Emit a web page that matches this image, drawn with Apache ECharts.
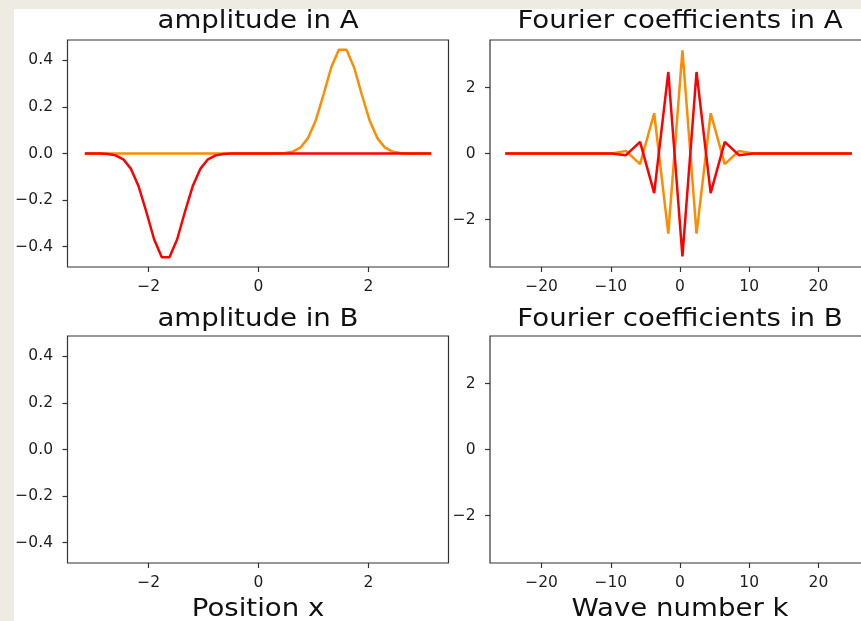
<!DOCTYPE html>
<html><head><meta charset="utf-8">
<script src="https://cdn.jsdelivr.net/npm/echarts@6/dist/echarts.min.js"></script>
<style>
html,body{margin:0;padding:0;background:#eeebe2;width:861px;height:621px;overflow:hidden}
#paper{position:absolute;left:14px;top:9px;width:847px;height:612px;background:#fff}
#chart{position:absolute;left:0;top:0;width:861px;height:621px}
</style></head><body><div id="paper"></div><div id="chart"></div>
<script>
// positions x
const xPos = [-3.16,-3.02,-2.88,-2.74,-2.60,-2.46,-2.32,-2.18,-2.04,-1.90,-1.76,-1.62,-1.48,-1.34,-1.20,-1.06,-0.92,-0.78,-0.64,-0.50,-0.36,-0.22,-0.08,0.06,0.20,0.34,0.48,0.62,0.76,0.90,1.04,1.18,1.32,1.46,1.60,1.74,1.88,2.02,2.16,2.30,2.44,2.58,2.72,2.86,3.00,3.14];
// amplitude in A (orange)
const ampOrange = [0,0,0,0,0,0,0,0,0,0,0,0,0,0,0,0,0,0,0,0,0,0,0,0,0,0,0.002,0.008,0.025,0.066,0.142,0.251,0.368,0.445,0.445,0.368,0.251,0.142,0.066,0.025,0.008,0.002,0,0,0,0];
// amplitude in A (red)
const ampRed = [0,0,0,-0.002,-0.008,-0.025,-0.066,-0.142,-0.251,-0.368,-0.445,-0.445,-0.368,-0.251,-0.142,-0.066,-0.025,-0.008,-0.002,0,0,0,0,0,0,0,0,0,0,0,0,0,0,0,0,0,0,0,0,0,0,0,0,0,0,0];
// wave numbers k
const kVals = [-25.25,-24.13,-22.09,-20.05,-18.01,-15.97,-13.93,-11.89,-9.85,-7.81,-5.77,-3.73,-1.69,0.35,2.39,4.43,6.47,8.51,10.55,12.59,14.63,16.67,18.71,20.75,22.79,24.83];
// Fourier coefficients in A
const fourOrange = [0,0,0,0,0,0,0,0,0,0.08,-0.32,1.22,-2.43,3.13,-2.43,1.22,-0.32,0.08,0,0,0,0,0,0,0,0];
const fourRed = [0,0,0,0,0,0,0,0,0,-0.05,0.35,-1.20,2.47,-3.12,2.47,-1.20,0.35,-0.05,0,0,0,0,0,0,0,0];
// tick labels
const ampYTicks = [-0.4,-0.2,0,0.2,0.4];
const ampXTicks = [-2,0,2];
const fourYTicks = [-2,0,2];
const fourXTicks = [-20,-10,0,10,20];
const panelTitles = ['amplitude in A','Fourier coefficients in A','amplitude in B','Fourier coefficients in B'];
const axisTitles = ['Position x','Wave number k'];

const FONT = '"DejaVu Sans", sans-serif';
const TXT = '#1e1e1e';
const LINE = '#333';
const minus = s => String(s).replace('-', '\u2212');

const grids = [
  {left:67.5, top:40, width:381, height:227},
  {left:490, top:40, width:380, height:227},
  {left:67.5, top:336, width:381, height:227},
  {left:490, top:336, width:380, height:227}
].map(g => Object.assign({show:true, borderColor:LINE, borderWidth:1.2, backgroundColor:'transparent', containLabel:false, outerBoundsMode:'none'}, g));

function xAx(i, min, max, ticks){
  return {type:'value', gridIndex:i, min, max, axisLine:{show:false, onZero:false},
    splitLine:{show:false},
    axisTick:{show:true, customValues:ticks, length:5, lineStyle:{color:LINE, width:1.2}},
    axisLabel:{customValues:ticks, margin:12, fontSize:15.5, fontFamily:FONT, color:TXT, formatter:v=>minus(v)}};
}
function yAx(i, min, max, ticks, fmt){
  return {type:'value', gridIndex:i, min, max, axisLine:{show:false, onZero:false},
    splitLine:{show:false},
    axisTick:{show:true, customValues:ticks, length:5, lineStyle:{color:LINE, width:1.2}},
    axisLabel:{customValues:ticks, margin:14.5, fontSize:15.5, fontFamily:FONT, color:TXT, formatter:fmt}};
}
const ampFmt = v => minus(v.toFixed(1));
const fourFmt = v => minus(Math.round(v));

const titlePos = [[258,22],[680,22],[258,320],[680,320]];
const graphic = panelTitles.map((t,i)=>({type:'text', x:titlePos[i][0], y:titlePos[i][1], scaleX:1.15,
  style:{text:t, font:'24px '+FONT, fill:'#111', textAlign:'center', textVerticalAlign:'middle'}}));
graphic.push({type:'text', x:258, y:610, scaleX:1.15, style:{text:axisTitles[0], font:'24px '+FONT, fill:'#111', textAlign:'center', textVerticalAlign:'middle'}});
graphic.push({type:'text', x:680, y:610, scaleX:1.15, style:{text:axisTitles[1], font:'24px '+FONT, fill:'#111', textAlign:'center', textVerticalAlign:'middle'}});

const chart = echarts.init(document.getElementById('chart'), null, {renderer:'canvas'});
chart.setOption({
  backgroundColor:'transparent',
  animation:false,
  grid:grids,
  xAxis:[xAx(0,-3.475,3.455,ampXTicks), xAx(1,-27.45,27.45,fourXTicks), xAx(2,-3.475,3.455,ampXTicks), xAx(3,-27.45,27.45,fourXTicks)],
  yAxis:[yAx(0,-0.487,0.487,ampYTicks,ampFmt), yAx(1,-3.44,3.44,fourYTicks,fourFmt), yAx(2,-0.487,0.487,ampYTicks,ampFmt), yAx(3,-3.44,3.44,fourYTicks,fourFmt)],
  graphic,
  series:[
    {type:'line', xAxisIndex:0, yAxisIndex:0, data:xPos.map((x,i)=>[x,ampOrange[i]]), showSymbol:false, lineStyle:{color:'#ff8c00', width:2.5}, z:2},
    {type:'line', xAxisIndex:0, yAxisIndex:0, data:xPos.map((x,i)=>[x,ampRed[i]]), showSymbol:false, lineStyle:{color:'#ff0000', width:2.5}, z:3},
    {type:'line', xAxisIndex:1, yAxisIndex:1, data:kVals.map((k,i)=>[k,fourOrange[i]]), showSymbol:false, lineStyle:{color:'#ff8c00', width:2.5}, z:2},
    {type:'line', xAxisIndex:1, yAxisIndex:1, data:kVals.map((k,i)=>[k,fourRed[i]]), showSymbol:false, lineStyle:{color:'#ff0000', width:2.5}, z:3}
  ]
});
</script></body></html>
